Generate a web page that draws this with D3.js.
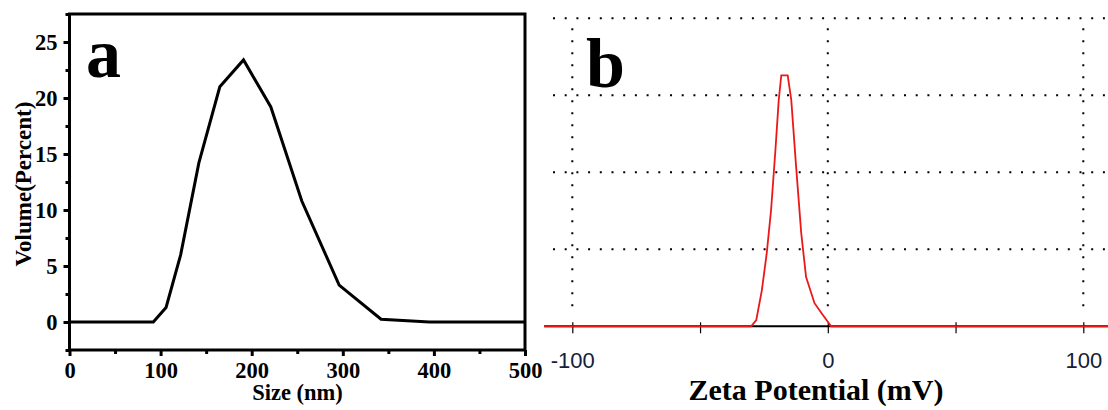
<!DOCTYPE html>
<html lang="en">
<head>
    <meta charset="UTF-8">
    <title>Size distribution and zeta potential</title>
    <script src="https://d3js.org/d3.v7.min.js"></script>
    <style>
        body {
            margin: 0;
            padding: 0;
            background: #fff;
        }
        svg {
            display: block;
        }
        .serif {
            font-family: "Liberation Serif", "Times New Roman", serif;
            font-weight: bold;
        }
        .sans {
            font-family: "Liberation Sans", Arial, sans-serif;
        }
    </style>
</head>
<body>
    <svg id="chart" width="1108" height="410"></svg>

    <script>
        // panel a: size distribution (volume %)
        const sizeNm = [0, 92, 106, 122, 142, 165, 191, 221, 255, 296, 342, 395, 500];
        const volumePct = [0, 0, 1.3, 6.0, 14.2, 21.0, 23.4, 19.2, 10.8, 3.3, 0.25, 0, 0];
        const sizeTicks = [0, 100, 200, 300, 400, 500];
        const volumeTicks = [0, 5, 10, 15, 20, 25];

        // panel b: zeta potential distribution (counts, arbitrary units)
        const zetaMv = [-111, -30, -28, -25.8, -23.9, -22.2, -20.5, -19.2, -18.2, -15.7, -14.3, -12.4, -10.4, -8.5, -5.2, -2.0, 0, 1.3, 110];
        const zetaCounts = [0, 0, 8, 47, 95, 151, 229, 294, 326, 326, 294, 207, 121, 64, 30, 15, 6, 0, 0];
        const zetaTicks = [-100, -50, 0, 50, 100];
        const zetaLabels = ["-100", "", "0", "", "100"];
        const zetaGridX = [-100, 0, 100];
        const zetaGridY = [100, 200, 300, 400];

        const svg = d3.select("#chart");

        // ---------- panel a ----------
        const a = { left: 69.5, top: 14, right: 525, bottom: 350 };

        const xA = d3.scaleLinear().domain([0, 500]).range([a.left, a.right]);
        const yA = d3.scaleLinear().domain([-2.5, 27.5]).range([a.bottom, a.top]);

        const gA = svg.append("g");

        // minor ticks first, then major ticks with labels
        gA.append("g")
            .attr("transform", `translate(0,${a.bottom})`)
            .call(d3.axisBottom(xA).tickValues(d3.range(50, 500, 100)).tickSize(4).tickFormat(""))
            .call(g => g.select(".domain").remove());
        gA.append("g")
            .attr("transform", `translate(${a.left},0)`)
            .call(d3.axisLeft(yA).tickValues(d3.range(-2.5, 28, 5)).tickSize(4).tickFormat(""))
            .call(g => g.select(".domain").remove());

        const xAxisA = gA.append("g")
            .attr("class", "serif")
            .attr("transform", `translate(0,${a.bottom})`)
            .call(d3.axisBottom(xA).tickValues(sizeTicks).tickSize(6).tickSizeOuter(0).tickPadding(6));
        const yAxisA = gA.append("g")
            .attr("class", "serif")
            .attr("transform", `translate(${a.left},0)`)
            .call(d3.axisLeft(yA).tickValues(volumeTicks).tickSize(6).tickSizeOuter(0).tickPadding(6));

        [xAxisA, yAxisA].forEach(ax => {
            ax.select(".domain").remove();
            ax.selectAll("text").style("font-size", "22.5px").attr("fill", "#000");
        });
        gA.selectAll(".tick line").attr("stroke", "#000").attr("stroke-width", 3);

        // frame
        gA.append("rect")
            .attr("x", a.left)
            .attr("y", a.top)
            .attr("width", a.right - a.left)
            .attr("height", a.bottom - a.top)
            .attr("fill", "none")
            .attr("stroke", "#000")
            .attr("stroke-width", 3);

        const lineA = d3.line()
            .x((d, i) => xA(sizeNm[i]))
            .y(d => yA(d));

        gA.append("path")
            .datum(volumePct)
            .attr("d", lineA)
            .attr("fill", "none")
            .attr("stroke", "#000")
            .attr("stroke-width", 3)
            .attr("stroke-linejoin", "miter");

        gA.append("text")
            .attr("class", "serif")
            .attr("x", 86)
            .attr("y", 77)
            .style("font-size", "70px")
            .text("a");

        gA.append("text")
            .attr("class", "serif")
            .attr("transform", `translate(31,${(a.top + a.bottom) / 2 + 2}) rotate(-90)`)
            .attr("text-anchor", "middle")
            .style("font-size", "23px")
            .text("Volume(Percent)");

        gA.append("text")
            .attr("class", "serif")
            .attr("x", 297.5)
            .attr("y", 400)
            .attr("text-anchor", "middle")
            .style("font-size", "22.5px")
            .text("Size (nm)");

        // ---------- panel b ----------
        const xB = d3.scaleLinear().domain([-100, 100]).range([572.3, 1083.3]);
        const yB = d3.scaleLinear().domain([0, 400]).range([326.3, 18.3]);

        const gB = svg.append("g");

        // dotted grid
        gB.selectAll(".hgrid")
            .data(zetaGridY)
            .enter().append("line")
            .attr("class", "hgrid")
            .attr("x1", 553)
            .attr("x2", 1108)
            .attr("y1", d => yB(d))
            .attr("y2", d => yB(d))
            .attr("stroke", "#000")
            .attr("stroke-width", 2)
            .attr("stroke-dasharray", "2,9.7");

        gB.selectAll(".vgrid")
            .data(zetaGridX)
            .enter().append("line")
            .attr("class", "vgrid")
            .attr("x1", d => xB(d))
            .attr("x2", d => xB(d))
            .attr("y1", yB(400) + 10)
            .attr("y2", yB(0) - 10)
            .attr("stroke", "#000")
            .attr("stroke-width", 2)
            .attr("stroke-dasharray", "2,10");

        // axis line spans the full plot width
        const xAxisB = gB.append("g")
            .attr("class", "sans")
            .attr("transform", `translate(0,${yB(0)})`)
            .call(d3.axisBottom(xB).tickValues(zetaTicks).tickSize(7).tickSizeOuter(0).tickPadding(19)
                .tickFormat((d, i) => zetaLabels[i]));
        xAxisB.select(".domain")
            .attr("d", `M${xB(zetaMv[0])},0H${xB(zetaMv[zetaMv.length - 1])}`)
            .attr("stroke", "#000")
            .attr("stroke-width", 2);
        xAxisB.selectAll(".tick line").attr("y1", -4).attr("stroke", "#000").attr("stroke-width", 1.2);
        xAxisB.selectAll("text").style("font-size", "22px").attr("fill", "#14203a");

        const lineB = d3.line()
            .x((d, i) => xB(zetaMv[i]))
            .y(d => yB(d));

        gB.append("path")
            .datum(zetaCounts)
            .attr("d", lineB)
            .attr("fill", "none")
            .attr("stroke", "#ec1818")
            .attr("stroke-width", 1.8);

        gB.append("text")
            .attr("class", "serif")
            .attr("x", 586)
            .attr("y", 86.5)
            .style("font-size", "70px")
            .text("b");

        gB.append("text")
            .attr("class", "serif")
            .attr("x", 816)
            .attr("y", 400)
            .attr("text-anchor", "middle")
            .style("font-size", "30px")
            .text("Zeta Potential (mV)");
    </script>
</body>
</html>
